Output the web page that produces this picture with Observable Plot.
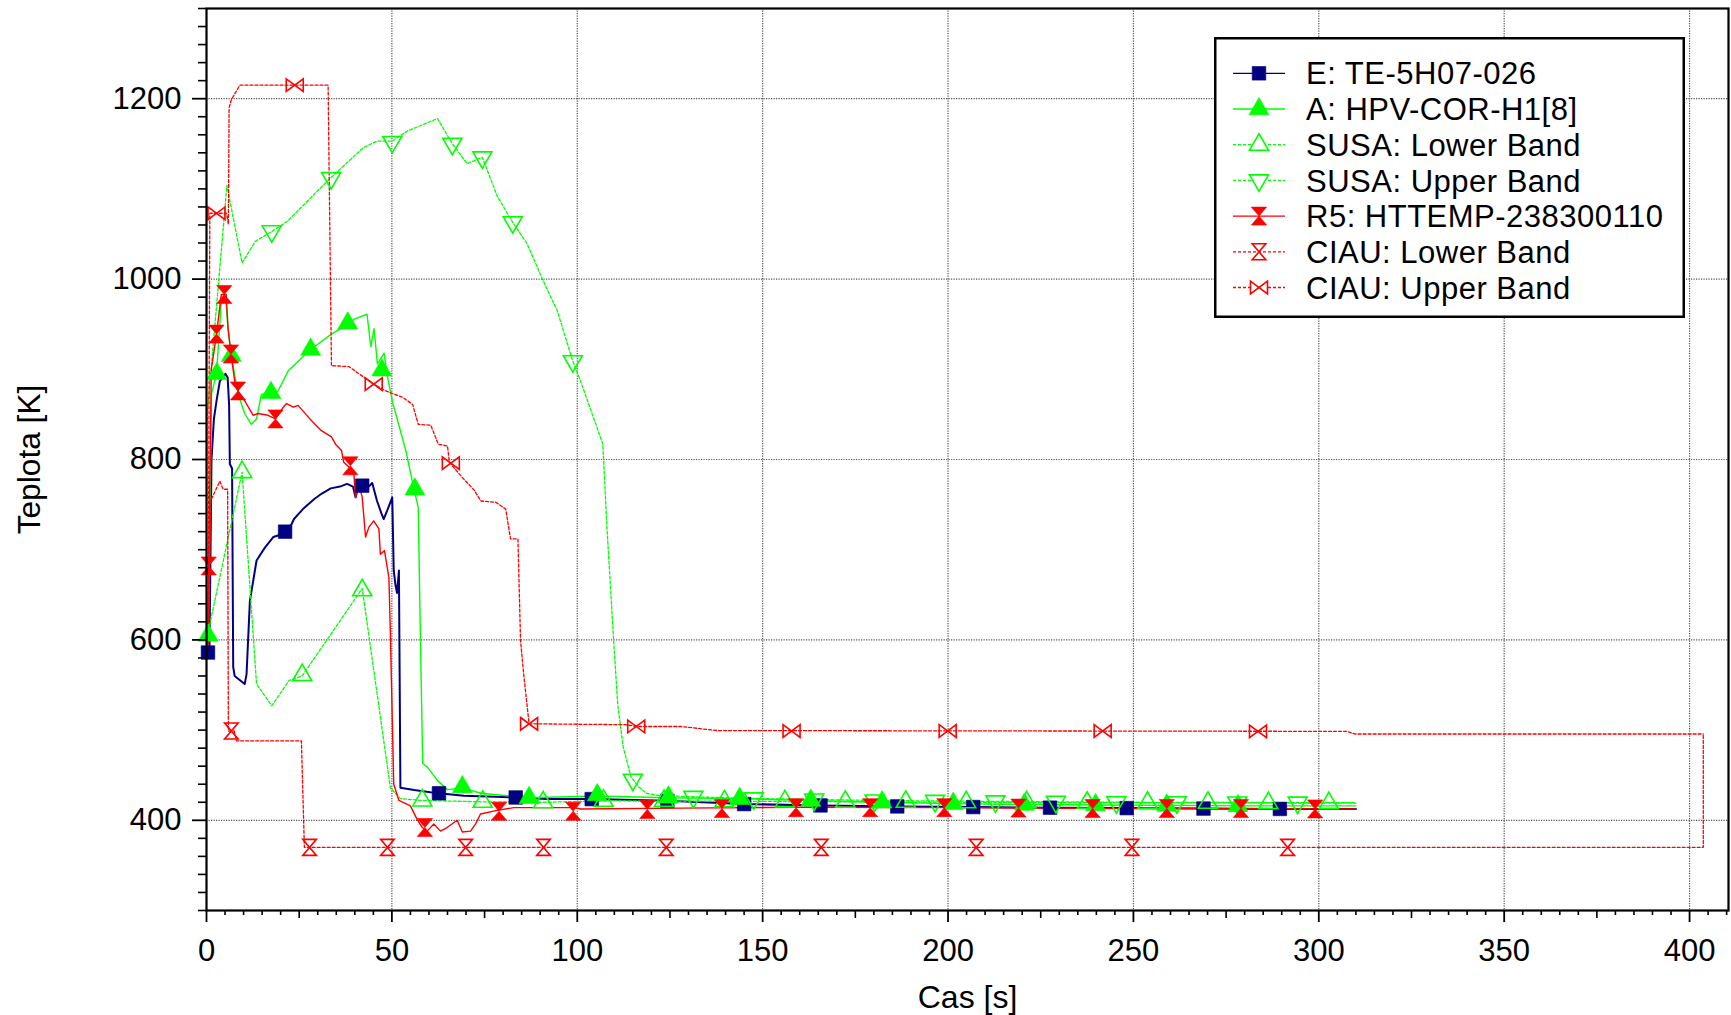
<!DOCTYPE html>
<html><head><meta charset="utf-8">
<script src="https://cdn.jsdelivr.net/npm/d3@7"></script>
<script src="https://cdn.jsdelivr.net/npm/@observablehq/plot@0.6"></script>
<style>
html,body{margin:0;padding:0;background:#fff;}
#wrap{position:relative;width:1731px;height:1015px;font-family:"Liberation Sans",Arial,sans-serif;}
</style></head><body><div id="wrap"></div>
<script>
// ---------- data (time [s], temperature [K]) ----------
const E_line = [[0,586],[0.8,592],[1.35,800],[2.0,845],[2.7,865],[3.6,887],[5.1,895],[5.7,891],[6.1,860],[6.3,795],[6.9,790],[7.2,570],[7.6,560],[10.3,551],[10.8,562],[11.7,643],[13.5,688],[15.7,702],[18,714],[19.5,716],[20,721],[21.1,720],[22.9,728],[23.6,734],[26,745],[29,756],[31,762],[33.5,768],[36,770],[37.9,773],[39.5,770],[40.2,758],[41,770],[42,771],[43.5,769],[44.7,774],[46,754],[47.2,740],[47.8,734],[48.7,743],[50.1,758],[50.5,677],[51,660],[51.4,652],[51.9,677],[52.3,436],[56,433.5],[60.4,431],[62.7,430],[69.4,427.2],[83.4,425.3],[91.9,423.5],[103.8,423.5],[124.3,421.6],[145,418],[166,416.5],[187,415.4],[207,414.7],[228,414],[249,413.5],[269,413],[290,412.6],[310,412.6]];
const E_marks = [[0.4,586],[21.2,720],[42,771],[62.7,430],[83.4,425.3],[103.9,423.5],[124.3,421.6],[145,418],[165.6,416.5],[186.3,415.4],[206.8,414.7],[227.5,414],[248.2,413.5],[268.9,413],[289.5,412.6]];

const A_line = [[0,604],[0.5,606],[1.35,873],[2.7,895],[4.0,976],[5.1,983],[5.8,946],[6.7,915],[8.5,873],[10.3,851],[12.1,839],[13.5,845],[14.8,872],[17.4,874],[19.3,876],[22,898],[28.1,922],[33.7,939],[38.1,950],[40,956],[43.3,961],[44.3,925],[45.2,945],[46.1,906],[47.9,918],[48.7,894],[50.2,863],[51.5,844],[53.8,809],[55.6,774],[57.1,747],[57.6,626],[58.3,463],[59.6,459],[62.3,444],[65,434],[69,436],[74,430],[87,425],[105.4,427],[124,425],[143,424],[163,422],[182,420],[201,418.5],[220,417.5],[240,417],[260,416.5],[280,416],[310,416]];
const A_marks = [[0.45,605],[2.8,895],[6.7,915],[17.4,874],[28.1,922],[38.1,951],[47.3,899],[56.2,767],[69,437],[87,425],[105.4,428],[124.6,425.5],[143.8,424],[163,422],[182.2,420],[201.4,418.5],[220.6,417.5],[239.8,417],[259,416.5],[278.2,416]];

const SUSAL_line = [[0,600],[9.6,786],[13.5,551],[17.6,527],[22.3,555],[25.8,560],[42,657],[49.6,436],[52.3,424],[58.2,422],[74.4,420.5],[90.7,420],[107,421.5],[150,421],[200,420],[250,419.5],[310,419]];
const SUSAL_marks = [[9.6,786],[25.8,561],[42,655],[58.2,422],[74.5,420.5],[90.8,420],[107.1,421.5],[123.4,421.5],[139.7,421],[156,421],[172.3,420.5],[188.6,420.5],[204.9,420],[221.2,420],[237.5,419.5],[253.8,419.5],[270.1,419.5],[286.4,419],[302.7,419]];

const SUSAU_line = [[0,605],[0.2,850],[5.5,1104],[9.6,1018],[13.2,1042],[17.7,1053],[21.8,1064],[33.4,1112],[42.4,1146],[46,1153],[50.1,1153],[54.1,1164],[62.3,1178],[66.3,1150],[70.3,1128],[74.4,1135],[78.4,1092],[82.6,1063],[86.5,1039],[90.6,1000],[94.6,965],[98.8,909],[100.8,888],[106.9,817],[108,725],[109.8,600],[110.9,529],[112.4,481],[114.5,448],[116.6,437],[118.6,430],[121.7,427.6],[134,425.7],[150,424],[180,422],[210,421],[250,420],[310,419.5]];
const SUSAU_marks = [[17.6,1053],[33.6,1112],[50.1,1152],[66.3,1150],[74.4,1135],[82.6,1063],[98.8,909],[115,445],[131.3,426],[147.6,424.3],[163.9,423],[180.2,422],[196.5,421.5],[212.8,421],[229.1,420.5],[245.4,420],[261.7,420],[278,419.8],[294.3,419.6]];

const R5_line = [[0.3,582],[0.6,682],[1.3,900],[2.7,939],[4.0,983],[5.3,983],[5.8,946],[6.6,917],[7.6,887],[8.5,876],[10.3,865],[12.6,849],[13.9,851],[16.6,849],[18.6,845],[20.7,858],[21.6,862],[23.4,858],[24.7,860],[27.9,845],[31,832],[33.7,825],[34.8,817],[36.4,810],[37,797],[39.7,787],[40.2,758],[41.1,773],[42,758],[42.9,714],[43.8,725],[45.1,732],[46.5,723],[46.9,695],[48,699],[49.2,669],[49.6,606],[50.5,440],[51.9,422],[55,416],[56.8,401],[58.2,392],[59.5,388],[61.3,396],[63.1,388],[64.9,392],[67.6,400],[69,387],[71.2,388],[72.6,396],[73.9,407],[78.4,411],[82.9,414],[99.1,414],[101,412.5],[128,413.5],[160,414.5],[200,414],[250,413],[310,412.6]];
const R5_marks = [[0.6,682],[2.7,939],[4.8,983],[6.6,917],[8.5,876],[18.6,845],[38.8,793],[58.9,392],[78.9,410],[98.9,410],[118.9,412],[139,413],[159,414],[179,414],[199,414],[219,413.5],[239,413],[259,413],[279,413],[299,412.6]];

const CIAUL_line = [[0.4,590],[1.2,755],[3.6,776],[4.5,767],[5.7,767],[5.9,499],[7.5,499],[8.1,488],[25.6,488],[26.4,370],[403.7,370],[403.7,495.7]];
const CIAUL_marks = [[6.7,499],[27.8,370],[48.8,370],[69.9,370],[90.9,370],[124,370],[165.8,370],[207.6,370],[249.6,370],[291.6,370]];

const CIAUU_line = [[0.4,590],[0.9,1073],[5.4,1073],[5.9,1061],[6.1,1190],[6.7,1199],[9.0,1215],[32.8,1215],[33.7,904],[38.4,903],[40.8,896],[45.1,883.5],[48.4,876],[52.9,869],[55.6,861],[57.1,839],[60.5,838],[62.5,817],[65,815],[65.5,797],[69,780],[72.2,766],[74,754],[78,752.6],[80.7,745],[82,712],[84,712],[84.7,599],[85.6,560],[87,507],[113,506],[116,504],[128,504],[137.7,499.5],[307.5,498.6],[309.7,495.7],[403.7,495.7]];
const CIAUU_marks = [[2.7,1073],[23.8,1215],[45.1,883.5],[65.9,796],[87,507],[115.9,504],[157.8,499],[199.9,499],[241.7,499],[283.6,498.6]];

const labels = ["E: TE-5H07-026","A: HPV-COR-H1[8]","SUSA: Lower Band","SUSA: Upper Band","R5: HTTEMP-238300110","CIAU: Lower Band","CIAU: Upper Band"];
const xMajor = [0,50,100,150,200,250,300,350,400];
const yMajor = [400,600,800,1000,1200];

// ---------- symbols ----------
function sym(fn){ return {draw(c, size){ fn(c, Math.sqrt(size/Math.PI)); }}; }
const square = sym((c,r)=>{c.moveTo(-r,-r);c.lineTo(r,-r);c.lineTo(r,r);c.lineTo(-r,r);c.closePath();});
const triUp = sym((c,r)=>{const h=r*1.732;c.moveTo(0,-2*h/3);c.lineTo(r,h/3);c.lineTo(-r,h/3);c.closePath();});
const triDown = sym((c,r)=>{const h=r*1.732;c.moveTo(0,2*h/3);c.lineTo(r,-h/3);c.lineTo(-r,-h/3);c.closePath();});
const hourglass = sym((c,r)=>{const w=r*0.85;c.moveTo(-w,-r);c.lineTo(w,-r);c.lineTo(-w,r);c.lineTo(w,r);c.closePath();});
const bowtie = sym((c,r)=>{const h=r*0.74;c.moveTo(-r,-h);c.lineTo(r,h);c.lineTo(r,-h);c.lineTo(-r,h);c.closePath();});

// ---------- styles ----------
const styles = [
  {line:E_line, marks:E_marks, color:"#000080", width:2, dash:null, symbol:square, r:6.8, filled:true},
  {line:A_line, marks:A_marks, color:"#00ff00", width:1.4, dash:null, symbol:triUp, r:10, filled:true},
  {line:SUSAL_line, marks:SUSAL_marks, color:"#00ff00", width:1.3, dash:"3,2", symbol:triUp, r:9.5, filled:false},
  {line:SUSAU_line, marks:SUSAU_marks, color:"#00ff00", width:1.3, dash:"3,2", symbol:triDown, r:9.5, filled:false},
  {line:R5_line, marks:R5_marks, color:"#ff0000", width:1.4, dash:null, symbol:hourglass, r:9, filled:true},
  {line:CIAUL_line, marks:CIAUL_marks, color:"#ff0000", width:1.3, dash:"3,2", symbol:hourglass, r:8, filled:false},
  {line:CIAUU_line, marks:CIAUU_marks, color:"#ff0000", width:1.3, dash:"3,2", symbol:bowtie, r:8.5, filled:false}
];
const rows = a => a.map(([t,T]) => ({t, T}));

const xMinor = d3.range(0, 411, 5).filter(d => d % 25 !== 0);
const xMid = d3.range(25, 411, 50);
const yMinor = d3.range(300, 1301, 20).filter(d => d % 200 !== 0);
const gridStyle = {stroke:"#555", strokeOpacity:1, strokeWidth:1.2, strokeDasharray:"1.2,1.3"};

const marks = [
  Plot.gridX(xMajor.filter(d => d > 0), gridStyle),
  Plot.gridY(yMajor, gridStyle),
  ...styles.map(s => Plot.line(rows(s.line), {x:"t", y:"T", stroke:s.color, strokeWidth:s.width, strokeDasharray:s.dash || undefined})),
  ...styles.map(s => Plot.dot(rows(s.marks), {x:"t", y:"T", symbol:s.symbol, r:s.r, fill: s.filled ? s.color : "none", stroke:s.color, strokeWidth: s.filled ? 0.6 : 1.6})),
  Plot.frame({stroke:"#000", strokeWidth:2.2}),
  Plot.axisX(xMajor, {tickSize:12, tickPadding:16, fontSize:31, strokeWidth:1.8, label:null, tickFormat:d => String(d)}),
  Plot.axisX(xMid, {tickSize:8, strokeWidth:1.6, label:null, tickFormat:() => ""}),
  Plot.axisX(xMinor, {tickSize:5, strokeWidth:1.6, label:null, tickFormat:() => ""}),
  Plot.axisY(yMajor, {tickSize:14, tickPadding:11, fontSize:31, strokeWidth:1.8, label:null, tickFormat:d => String(d)}),
  Plot.axisY(yMinor, {tickSize:8, strokeWidth:1.6, label:null, tickFormat:() => ""}),
  Plot.text(["Cas [s]"], {text:d => d, frameAnchor:"bottom", textAnchor:"middle", lineAnchor:"middle", dy:87, fontSize:32}),
  Plot.text(["Teplota [K]"], {text:d => d, frameAnchor:"left", textAnchor:"middle", lineAnchor:"middle", dx:-177, rotate:-90, fontSize:31.7})
];

const chart = Plot.plot({
  width:1731, height:1015,
  marginLeft:206, marginRight:3, marginTop:8, marginBottom:105,
  x:{domain:[0,410.5], label:null},
  y:{domain:[300,1300], label:null},
  style:{fontFamily:'"Liberation Sans",Arial,sans-serif', background:"#fff", overflow:"visible", color:"#000"},
  marks
});
const wrap = document.getElementById("wrap");
wrap.appendChild(chart);

// ---------- legend ----------
const leg = d3.select(wrap).append("svg")
  .attr("width", 471).attr("height", 281)
  .style("position","absolute").style("left","1214px").style("top","37px")
  .style("font-family",'"Liberation Sans",Arial,sans-serif');
leg.append("rect").attr("x",1.25).attr("y",1.25).attr("width",468.5).attr("height",278.5)
  .attr("fill","#fff").attr("stroke","#000").attr("stroke-width",2.5);
styles.forEach((s, i) => {
  const cy = 36.3 + 35.7 * i;
  leg.append("line").attr("x1",19).attr("x2",71).attr("y1",cy).attr("y2",cy)
    .attr("stroke",s.color).attr("stroke-width",1.3).attr("stroke-dasharray",s.dash);
  const p = d3.path(); s.symbol.draw(p, Math.PI * s.r * s.r);
  leg.append("path").attr("d",p.toString()).attr("transform",`translate(45,${cy})`)
    .attr("fill", s.filled ? s.color : "#fff").attr("stroke",s.color).attr("stroke-width", s.filled ? 0.6 : 1.6);
  leg.append("text").attr("x",92).attr("y",cy).attr("dy","0.36em").attr("font-size",31)
    .attr("letter-spacing","0.5px").attr("fill","#000").text(labels[i]);
});
</script></body></html>
